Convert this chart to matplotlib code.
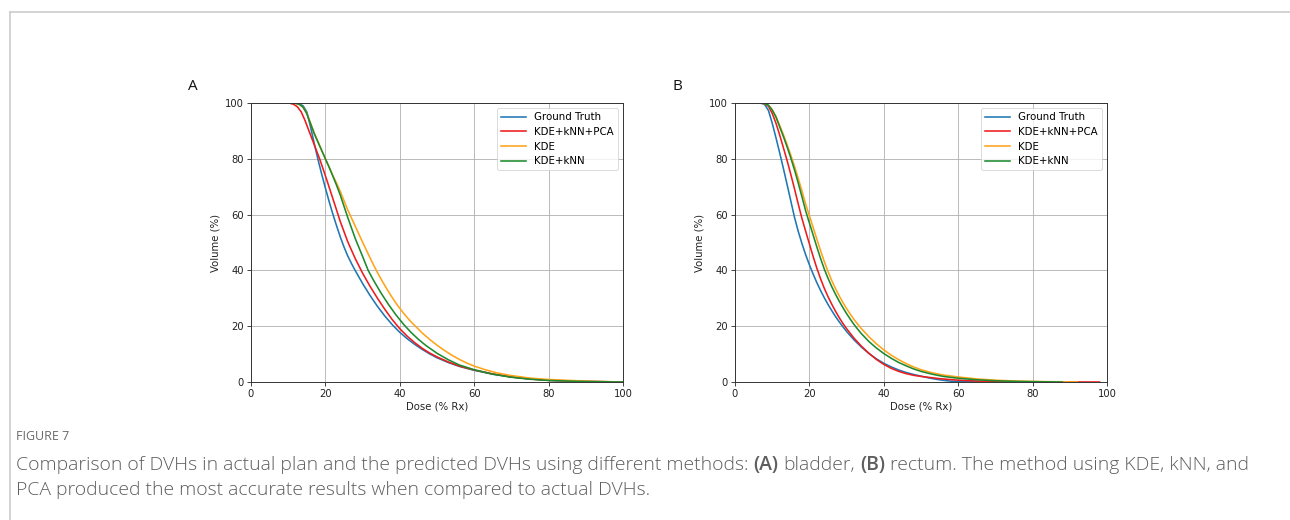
import matplotlib
matplotlib.use("Agg")
import matplotlib.pyplot as plt
from matplotlib.lines import Line2D

# ---------------- data ----------------
series_names = ["Ground Truth", "KDE+kNN+PCA", "KDE", "KDE+kNN"]
series_colors = ["#1f77b4", "#ee1c1c", "#ffa31a", "#1e8a2e"]

# Panel A (bladder)
a_gt_dose = [9.5, 12, 13, 14, 15, 16, 17, 18, 19, 20, 21, 22, 23, 24, 25, 26, 27, 28, 30, 32, 34, 36, 38, 40,
             42, 44, 46, 48, 50, 53, 56, 60, 65, 70, 75, 80, 90, 100]
a_gt_vol = [100, 99.9, 99.7, 99.0, 96.8, 91.5, 85.5, 79.8, 74.5, 69.5, 64.7, 60.2, 56, 52, 48.4, 45.2, 42.5, 40,
            35.3, 31, 27.1, 23.6, 20.5, 17.8, 15.5, 13.5, 11.7, 10.1, 8.7, 7, 5.6, 4.2, 2.8, 1.8, 1.1, 0.6, 0.2, 0]

a_pca_dose = [9.5, 10.5, 11.5, 12.5, 13.5, 14.5, 15.5, 16.5, 17.5, 18.5, 19.5, 20.5, 21.5, 22.5, 23.3, 24, 26,
              28, 30, 32, 34, 36, 38, 40, 42, 44, 46, 48, 50, 53, 56, 60, 65, 70, 75, 80, 90, 100]
a_pca_vol = [100, 99.9, 99.5, 98.6, 96.8, 93.8, 90.3, 86.8, 83.3, 79.8, 75.9, 71.9, 67.8, 63.7, 60.4, 57.5,
             50.3, 44.3, 39, 34.3, 30, 26, 22.3, 19.1, 16.4, 14.1, 12.1, 10.4, 9, 7.2, 5.7, 4.3, 2.9, 1.8, 1.1,
             0.6, 0.2, 0]

a_kde_dose = [9.5, 12, 13, 14, 15, 16, 17, 18, 19, 20, 21, 22, 23, 24, 25, 26, 27, 28, 29, 30, 31, 32, 33, 34,
              35, 36, 37, 38, 39, 40, 41, 42, 43, 44.5, 46, 48, 50, 52, 54, 56, 58, 60, 63, 66, 70, 75, 80, 90, 100]
a_kde_vol = [100, 99.9, 99.5, 98.5, 96.3, 92.8, 89.3, 86.2, 83, 80, 77, 74, 71.3, 68.3, 65, 61.7, 58.8, 55.9,
             53, 50.1, 47.3, 44.5, 41.8, 39.2, 36.8, 34.5, 32.3, 30.2, 28.2, 26.4, 24.7, 23.1, 21.6, 19.6, 17.6,
             15.3, 13.2, 11.3, 9.6, 8.1, 6.8, 5.7, 4.4, 3.3, 2.3, 1.4, 0.9, 0.3, 0]

a_knn_dose = [9.5, 12, 13, 14, 15, 16, 17, 18, 19, 20, 21, 22, 23, 24, 25, 26, 28, 30, 31.5, 33, 35, 37, 39,
              41, 43, 45, 47, 50, 53, 56, 60, 65, 70, 75, 80, 90, 100]
a_knn_vol = [100, 99.9, 99.5, 98.5, 96.2, 92.6, 89, 86, 83, 80, 77, 73.8, 70.5, 67, 63, 59, 51.5, 45, 40, 36.3,
             31.8, 27.7, 24, 20.7, 17.8, 15.3, 13.1, 10.3, 8, 6.1, 4.4, 2.8, 1.7, 1.0, 0.55, 0.15, 0]

# Panel B (rectum)
b_gt_dose = [6.5, 7.5, 8, 9, 10, 11, 12, 13, 14, 15, 16, 17, 18, 19, 20, 21, 22, 23, 24, 25, 26, 27, 28, 29,
             30, 32, 34, 36, 38, 40, 42, 44, 46, 48, 50, 52, 54, 56, 58, 60, 64, 70]
b_gt_vol = [100, 99.8, 99.4, 97.3, 92.8, 87.6, 82.2, 76.6, 70.8, 64.9, 59, 54, 49.6, 45.6, 42, 38.7, 35.6, 32.8,
            30.2, 27.8, 25.6, 23.5, 21.6, 19.8, 18.1, 15.1, 12.5, 10.2, 8.3, 6.7, 5.4, 4.3, 3.4, 2.7, 2.1, 1.5,
            1.0, 0.6, 0.3, 0.15, 0.03, 0]

b_pca_dose = [6.5, 8, 9, 10, 11, 12, 13, 14, 15, 16, 17, 18, 19, 20, 21, 22, 23, 24, 25, 26, 27, 28, 29, 30,
              32, 34, 36, 38, 40, 42, 44, 46, 48, 50, 55, 60, 65, 70, 80, 90, 98]
b_pca_vol = [100, 99.8, 98.8, 96.3, 92.8, 88.6, 84, 79.4, 74.4, 69.2, 63.8, 58.6, 54, 49.5, 45, 40.8, 37, 33.6,
             30.6, 27.9, 25.4, 23.1, 21, 19.1, 15.7, 12.8, 10.3, 8.1, 6.3, 4.9, 3.8, 3, 2.4, 2, 1.2, 0.65, 0.35,
             0.18, 0.06, 0.02, 0]

b_kde_dose = [6.5, 8, 9, 10, 11, 12, 13, 14, 15, 16, 17, 18, 19, 20, 21, 22, 23, 24, 25, 26, 27, 28, 29, 30,
              31, 32, 33, 34, 36, 38, 40, 42, 44, 46, 48, 50, 53, 56, 60, 65, 70, 76, 84, 92]
b_kde_vol = [100, 99.8, 99.2, 97.6, 95.2, 92, 88.7, 85.1, 81.3, 77.3, 73, 68.5, 63.7, 59.6, 55.4, 51.2, 47.1,
             43.2, 39.6, 36.4, 33.5, 30.9, 28.5, 26.3, 24.3, 22.4, 20.7, 19.1, 16.2, 13.7, 11.5, 9.6, 8, 6.6,
             5.4, 4.4, 3.3, 2.5, 1.8, 1.1, 0.65, 0.32, 0.12, 0]

b_knn_dose = [6.5, 8, 9, 10, 11, 12, 13, 14, 15, 16, 17, 18, 19, 20, 21, 22, 23, 24, 25, 26, 27, 28, 29, 30,
              31, 32, 33, 34, 36, 38, 40, 42, 44, 46, 48, 50, 53, 56, 60, 65, 70, 76, 82, 88]
b_knn_vol = [100, 99.8, 99.2, 97.5, 95, 91.5, 88, 84.3, 80.3, 76, 71.3, 66.4, 61.3, 57, 52.7, 48.4, 44.3, 40.5,
             37.2, 34.2, 31.5, 29, 26.7, 24.5, 22.5, 20.6, 18.9, 17.3, 14.5, 12.2, 10.2, 8.5, 7, 5.8, 4.7, 3.8,
             2.8, 2, 1.35, 0.8, 0.45, 0.2, 0.08, 0]

panel_letters = ["A", "B"]
x_ticks = [0, 20, 40, 60, 80, 100]
y_ticks = [0, 20, 40, 60, 80, 100]
x_label = "Dose (% Rx)"
y_label = "Volume (%)"

fig_label = "FIGURE 7"
caption_line1 = [("Comparison of DVHs in actual plan and the predicted DVHs using different methods: ", "light"),
                 ("(A)", "semibold"), (" bladder, ", "light"), ("(B)", "semibold"),
                 (" rectum. The method using KDE, kNN, and", "light")]
caption_line2 = "PCA produced the most accurate results when compared to actual DVHs."

panels = [
    [(a_gt_dose, a_gt_vol), (a_pca_dose, a_pca_vol), (a_kde_dose, a_kde_vol), (a_knn_dose, a_knn_vol)],
    [(b_gt_dose, b_gt_vol), (b_pca_dose, b_pca_vol), (b_kde_dose, b_kde_vol), (b_knn_dose, b_knn_vol)],
]

cap_font = "Open Sans"

# ---------------- figure ----------------
W, H = 1290, 520
fig = plt.figure(figsize=(W / 100, H / 100), dpi=100)
fig.patch.set_facecolor("white")

fig.add_artist(Line2D([9.5 / W, 1.0], [1 - 11.5 / H, 1 - 11.5 / H], color="#cccccc", lw=1.2,
                      transform=fig.transFigure))
fig.add_artist(Line2D([9.5 / W, 9.5 / W], [0, 1 - 11.5 / H], color="#cccccc", lw=1.2,
                      transform=fig.transFigure))

ax_lefts = [251, 735]
ax_w = 372
ax_top, ax_bot = 103, 382
for i, (left, series) in enumerate(zip(ax_lefts, panels)):
    ax = fig.add_axes([left / W, 1 - ax_bot / H, ax_w / W, (ax_bot - ax_top) / H])
    for (d, v), name, c in zip(series, series_names, series_colors):
        ax.plot(d, v, color=c, lw=1.15, label=name)
    ax.set_xlim(0, 100)
    ax.set_ylim(0, 100)
    ax.set_xticks(x_ticks)
    ax.set_yticks(y_ticks)
    ax.grid(True, color="#b0b0b0", lw=0.6)
    ax.set_axisbelow(True)
    ax.tick_params(labelsize=7.2, length=2.6, width=0.6, pad=2.5, colors="#222222")
    for s in ax.spines.values():
        s.set_linewidth(0.7)
        s.set_color("#333333")
    ax.set_xlabel(x_label, fontsize=7.3, labelpad=2, color="#222222")
    ax.set_ylabel(y_label, fontsize=7.3, labelpad=3, color="#222222")
    leg = ax.legend(loc="upper right", fontsize=7.4, frameon=True, fancybox=True, framealpha=0.8,
                    borderaxespad=0.5, handlelength=2.4, labelspacing=0.45, borderpad=0.4)
    leg.get_frame().set_linewidth(0.6)
    leg.get_frame().set_edgecolor("#cccccc")
    fig.text((left - 58) / W, 1 - 87 / H, panel_letters[i], fontsize=11, family="Open Sans",
             ha="center", va="center", color="#111111")

fig.text(16 / W, 1 - 437 / H, fig_label, fontsize=9.0, family=cap_font, color="#6a6a6a",
         ha="left", va="center")

renderer = fig.canvas.get_renderer()
cap_color = "#5e5e5e"

def draw_pieces(pieces, x0, y, size):
    x = x0
    arts = []
    for txt, wt in pieces:
        stripped = txt.strip(" ")
        lead = len(txt) - len(txt.lstrip(" "))
        trail = len(txt) - len(txt.rstrip(" "))
        t1 = fig.text(0, 0, "a a", fontsize=size, family=cap_font, weight=wt)
        t2 = fig.text(0, 0, "aa", fontsize=size, family=cap_font, weight=wt)
        sw = t1.get_window_extent(renderer).width - t2.get_window_extent(renderer).width
        t1.remove(); t2.remove()
        x += lead * sw
        t = fig.text(x / W, y, stripped, fontsize=size, family=cap_font, weight=wt, color=cap_color,
                     ha="left", va="center")
        arts.append(t)
        x += t.get_window_extent(renderer).width + trail * sw
    return x, arts

cap_size = 11.5
end_x, arts = draw_pieces(caption_line1, 16, 1 - 465 / H, cap_size)
scale = (1250 - 16) / (end_x - 16)
for a in arts:
    a.remove()
cap_size = cap_size * scale
draw_pieces(caption_line1, 16, 1 - 465 / H, cap_size)
fig.text(16 / W, 1 - 490 / H, caption_line2, fontsize=cap_size, family=cap_font, weight="light",
         color=cap_color, ha="left", va="center")

fig.savefig("out.png", dpi=100)
